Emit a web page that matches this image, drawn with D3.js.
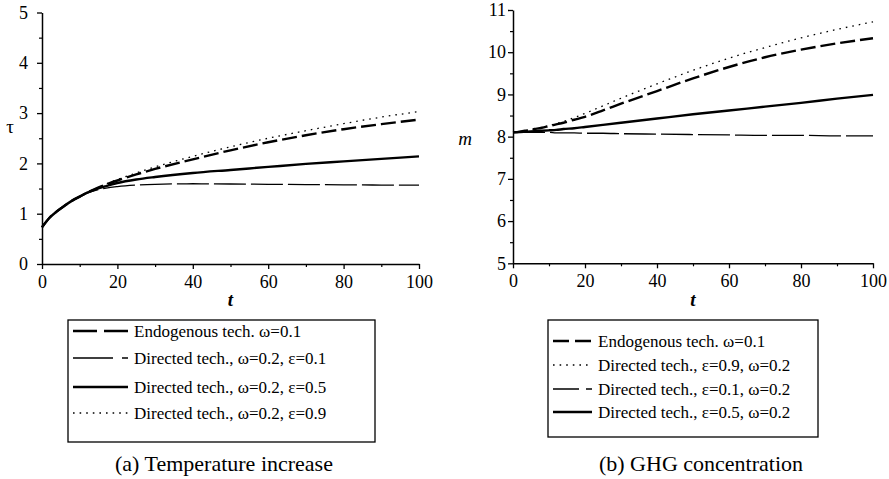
<!DOCTYPE html>
<html>
<head>
<meta charset="utf-8">
<script src="https://cdn.jsdelivr.net/npm/d3@7"></script>
<style>
body{margin:0;background:#fff;}
svg{display:block;}
text{font-family:"Liberation Serif","Times New Roman",serif;fill:#000;}
</style>
</head>
<body>
<svg id="c" width="889" height="479"></svg>
<script>
// ---------- data ----------
const tPoints = [0, 2, 4, 6, 8, 10, 12, 14, 17, 20, 25, 30, 40, 50, 60, 70, 80, 90, 100];

// (a) Temperature increase, tau
const tauEndog    = [0.73, 0.92, 1.05, 1.16, 1.26, 1.34, 1.42, 1.49, 1.58, 1.66, 1.78, 1.89, 2.08, 2.26, 2.42, 2.56, 2.68, 2.78, 2.87];
const tauDirEps01 = [0.73, 0.92, 1.05, 1.16, 1.26, 1.34, 1.41, 1.46, 1.51, 1.54, 1.57, 1.585, 1.595, 1.59, 1.585, 1.58, 1.575, 1.57, 1.57];
const tauDirEps05 = [0.73, 0.92, 1.05, 1.16, 1.26, 1.34, 1.42, 1.48, 1.55, 1.61, 1.68, 1.73, 1.81, 1.87, 1.93, 1.99, 2.04, 2.09, 2.14];
const tauDirEps09 = [0.73, 0.92, 1.05, 1.16, 1.26, 1.34, 1.42, 1.49, 1.59, 1.68, 1.81, 1.93, 2.14, 2.33, 2.50, 2.65, 2.79, 2.92, 3.03];

// (b) GHG concentration, m
const mEndog    = [8.10, 8.12, 8.15, 8.18, 8.21, 8.25, 8.29, 8.33, 8.40, 8.47, 8.62, 8.78, 9.08, 9.38, 9.65, 9.88, 10.06, 10.21, 10.33];
const mDirEps09 = [8.10, 8.12, 8.15, 8.18, 8.22, 8.26, 8.31, 8.36, 8.45, 8.55, 8.73, 8.91, 9.25, 9.57, 9.86, 10.11, 10.34, 10.54, 10.72];
const mDirEps01 = [8.10, 8.10, 8.10, 8.10, 8.10, 8.10, 8.09, 8.09, 8.09, 8.08, 8.08, 8.07, 8.06, 8.05, 8.04, 8.03, 8.03, 8.02, 8.02];
const mDirEps05 = [8.10, 8.11, 8.12, 8.13, 8.14, 8.15, 8.16, 8.18, 8.20, 8.23, 8.28, 8.33, 8.43, 8.53, 8.62, 8.71, 8.80, 8.90, 8.99];

const xTicks = [0, 20, 40, 60, 80, 100];
const tauTicks = [0, 1, 2, 3, 4, 5];
const mTicks = [5, 6, 7, 8, 9, 10, 11];

const legendA = ["Endogenous tech. ω=0.1", "Directed tech., ω=0.2, ε=0.1", "Directed tech., ω=0.2, ε=0.5", "Directed tech., ω=0.2, ε=0.9"];
const legendB = ["Endogenous tech. ω=0.1", "Directed tech., ε=0.9, ω=0.2", "Directed tech., ε=0.1, ω=0.2", "Directed tech., ε=0.5, ω=0.2"];
const captionA = "(a) Temperature increase";
const captionB = "(b) GHG concentration";

// ---------- styles ----------
const S = {
  endog: {w: 2.4, dash: "15,5"},
  eps01: {w: 1.3, dash: "32,5"},
  eps05: {w: 2.4, dash: null},
  eps09: {w: 1.3, dash: "1.6,5"}
};

const svg = d3.select("#c");

function panel(o) {
  const x = d3.scaleLinear().domain([0, 100]).range(o.xr);
  const y = d3.scaleLinear().domain(o.yd).range(o.yr);
  const g = svg.append("g");

  // minor ticks
  const xm = d3.range(10, 100, 20);
  g.append("g").attr("transform", `translate(0,${o.yr[0]})`)
    .call(d3.axisBottom(x).tickValues(xm).tickSize(3).tickFormat(""))
    .call(a => a.select(".domain").remove())
    .selectAll("line").attr("stroke", "#000").attr("stroke-width", 1.2);
  const ym = d3.range(o.yd[0] + 0.5, o.yd[1], 1);
  g.append("g").attr("transform", `translate(${o.xr[0]},0)`)
    .call(d3.axisLeft(y).tickValues(ym).tickSize(3).tickFormat(""))
    .call(a => a.select(".domain").remove())
    .selectAll("line").attr("stroke", "#000").attr("stroke-width", 1.2);

  // major axes
  const xa = g.append("g").attr("transform", `translate(0,${o.yr[0]})`)
    .call(d3.axisBottom(x).tickValues(xTicks).tickSize(5).tickSizeOuter(0).tickPadding(6).tickFormat(d3.format("d")));
  const ya = g.append("g").attr("transform", `translate(${o.xr[0]},0)`)
    .call(d3.axisLeft(y).tickValues(o.yt).tickSize(5).tickSizeOuter(0).tickPadding(o.ypad).tickFormat(d3.format("d")));
  [xa, ya].forEach(a => {
    a.attr("font-family", null);
    a.select(".domain").attr("stroke", "#000").attr("stroke-width", 1.5);
    a.selectAll("line").attr("stroke", "#000").attr("stroke-width", 1.3);
    a.selectAll("text").attr("font-size", 18);
  });

  // lines
  const line = d3.line().x((d, i) => x(tPoints[i])).y(d => y(d)).curve(d3.curveMonotoneX);
  o.series.forEach(s => {
    g.append("path").datum(s.v).attr("d", line)
      .attr("fill", "none").attr("stroke", "#000")
      .attr("stroke-width", s.st.w)
      .attr("stroke-dasharray", s.st.dash)
      .attr("stroke-linecap", "butt");
  });

  // axis labels
  g.append("text").attr("x", (o.xr[0] + o.xr[1]) / 2).attr("y", 306)
    .attr("text-anchor", "middle").attr("font-size", 19).attr("font-style", "italic").attr("font-weight", "bold").text("t");
  g.append("text").attr("x", o.ylab[0]).attr("y", o.ylab[1])
    .attr("text-anchor", "middle").attr("font-size", 19).attr("font-style", o.ylabStyle).text(o.ylabText);

  // legend
  const L = o.leg;
  g.append("rect").attr("x", L.x0).attr("y", L.y0).attr("width", L.x1 - L.x0).attr("height", L.y1 - L.y0)
    .attr("fill", "none").attr("stroke", "#000").attr("stroke-width", 1.3);
  o.series.forEach((s, i) => {
    const yy = L.rows[i];
    g.append("line").attr("x1", L.sx0).attr("x2", L.sx1).attr("y1", yy).attr("y2", yy)
      .attr("stroke", "#000").attr("stroke-width", s.st.w).attr("stroke-dasharray", s.legDash || s.st.dash);
    g.append("text").attr("x", L.tx).attr("y", yy + 5.5).attr("font-size", 17).text(o.legText[i]);
  });

  g.append("text").attr("x", o.cap[0]).attr("y", o.cap[1]).attr("text-anchor", "middle")
    .attr("font-size", 22).text(o.capText);
}

panel({
  xr: [42, 419], yd: [0, 5], yr: [264, 12.5], yt: tauTicks, ypad: 9,
  ylab: [10, 133], ylabText: "τ", ylabStyle: "normal",
  series: [
    {v: tauEndog, st: S.endog, legDash: "24,7"},
    {v: tauDirEps01, st: S.eps01, legDash: "40,9"},
    {v: tauDirEps05, st: S.eps05},
    {v: tauDirEps09, st: S.eps09}
  ],
  legText: legendA,
  leg: {x0: 68, y0: 320, x1: 375, y1: 442, rows: [331, 358, 387, 413], sx0: 73, sx1: 128, tx: 134},
  cap: [224, 471], capText: captionA
});

panel({
  xr: [513, 873], yd: [5, 11], yr: [263.3, 10], yt: mTicks, ypad: 2,
  ylab: [465, 145], ylabText: "m", ylabStyle: "italic",
  series: [
    {v: mEndog, st: S.endog, legDash: "16,6"},
    {v: mDirEps09, st: S.eps09},
    {v: mDirEps01, st: S.eps01, legDash: "26,7"},
    {v: mDirEps05, st: S.eps05}
  ],
  legText: legendB,
  leg: {x0: 548, y0: 320, x1: 818, y1: 437, rows: [341, 365, 389, 412], sx0: 553, sx1: 592, tx: 598},
  cap: [701, 471], capText: captionB
});
</script>
</body>
</html>
